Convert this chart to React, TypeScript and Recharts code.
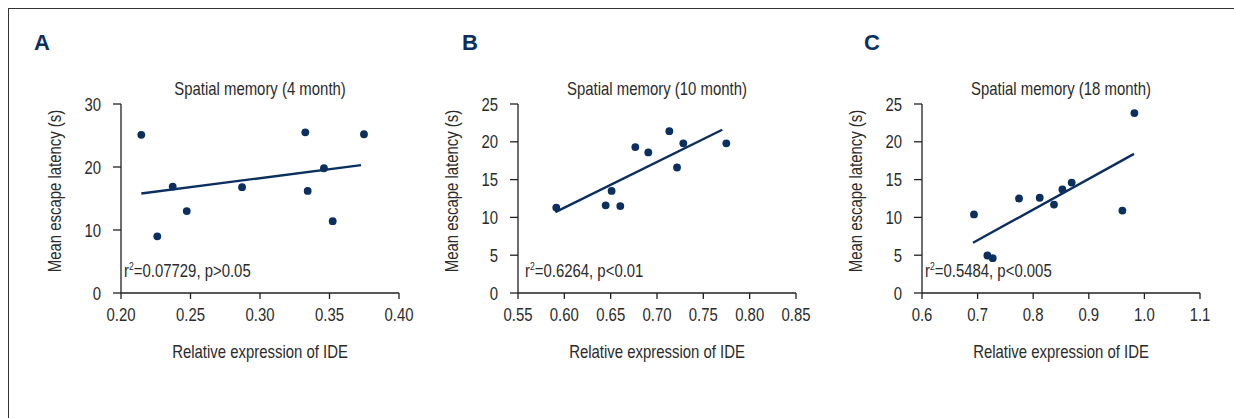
import { ScatterChart, Scatter, XAxis, YAxis, ReferenceLine } from "recharts";

// no condensed face is installed, so Liberation Sans gets squeezed horizontally
const FONT = '"Liberation Sans", Arial, sans-serif';
const SQUEEZE = 0.82;
const FONT_SIZE = 18.2;
const NAVY = "#0b2f5f";
const INK = "#2b2b2b";

// A: 4 month
const ideA = [0.2146, 0.2261, 0.2372, 0.2473, 0.2871, 0.3326, 0.3343, 0.346, 0.3523, 0.3748];
const latencyA = [25.1, 9.0, 16.9, 13.0, 16.8, 25.5, 16.2, 19.8, 11.4, 25.2];
const fitXA = [0.2146, 0.3727];
const fitYA = [15.8, 20.3];
const xTicksA = [0.2, 0.25, 0.3, 0.35, 0.4];
const yTicksA = [0, 10, 20, 30];

// B: 10 month
const ideB = [0.5913, 0.6446, 0.651, 0.6604, 0.6766, 0.6906, 0.7133, 0.7216, 0.7284, 0.7748];
const latencyB = [11.3, 11.6, 13.5, 11.5, 19.3, 18.6, 21.4, 16.6, 19.8, 19.8];
const fitXB = [0.5903, 0.7704];
const fitYB = [10.7, 21.6];
const xTicksB = [0.55, 0.6, 0.65, 0.7, 0.75, 0.8, 0.85];
const yTicksB = [0, 5, 10, 15, 20, 25];

// C: 18 month
const ideC = [0.6935, 0.7176, 0.7272, 0.7745, 0.8117, 0.8374, 0.8525, 0.8692, 0.9604, 0.982];
const latencyC = [10.4, 4.96, 4.6, 12.5, 12.6, 11.7, 13.7, 14.6, 10.9, 23.8];
const fitXC = [0.6917, 0.9813];
const fitYC = [6.64, 18.4];
const xTicksC = [0.6, 0.7, 0.8, 0.9, 1.0, 1.1];
const yTicksC = [0, 5, 10, 15, 20, 25];

const CHART_W = 420;
const CHART_H = 418;
const Y_AXIS_W = 121;
const PLOT_W = 278;

type PanelProps = {
  left: number;
  letter: string;
  letterX: number;
  title: string;
  stat: [string, string];
  statDx: number;
  xs: number[];
  ys: number[];
  fitX: number[];
  fitY: number[];
  xTicks: number[];
  yTicks: number[];
  decimals: number;
};

const textStyle = (cx: number, cy: number): React.CSSProperties => ({
  position: "absolute",
  left: cx,
  top: cy,
  transform: `translate(-50%, -50%) scaleX(${SQUEEZE})`,
  whiteSpace: "nowrap",
  fontFamily: FONT,
  fontSize: FONT_SIZE,
  lineHeight: 1,
  color: INK,
});

const makeTick = (anchor: "middle" | "end", dy: string, decimals: number) => (t: any) => (
  <g transform={`translate(${t.x},${t.y})`}>
    <text
      transform={`scale(${SQUEEZE},1)`}
      textAnchor={anchor}
      dy={dy}
      fill={INK}
      fontSize={FONT_SIZE}
      fontFamily={FONT}
    >
      {decimals < 0 ? String(t.payload.value) : Number(t.payload.value).toFixed(decimals)}
    </text>
  </g>
);

function Panel(p: PanelProps) {
  const data = p.xs.map((x, i) => ({ x, y: p.ys[i] }));
  const axisX = p.left + Y_AXIS_W;
  const cx = axisX + PLOT_W / 2;

  return (
    <>
      <div
        style={{
          position: "absolute",
          left: p.letterX,
          top: 32,
          fontFamily: FONT,
          fontWeight: "bold",
          fontSize: 22,
          lineHeight: "22px",
          color: NAVY,
        }}
      >
        {p.letter}
      </div>
      <div style={textStyle(cx, 89)}>{p.title}</div>
      <div style={textStyle(cx, 352)}>Relative expression of IDE</div>
      <div
        style={{
          ...textStyle(axisX - 66.5, 191),
          transform: `translate(-50%, -50%) rotate(-90deg) scaleX(${SQUEEZE})`,
        }}
      >
        Mean escape latency (s)
      </div>
      <div
        style={{
          ...textStyle(axisX + p.statDx, 270.5),
          transform: `translateY(-50%) scaleX(${SQUEEZE})`,
          transformOrigin: "left center",
        }}
      >
        {p.stat[0]}
        <sup style={{ fontSize: 10.5, verticalAlign: 0, position: "relative", top: -7 }}>2</sup>
        {p.stat[1]}
      </div>
      <div style={{ position: "absolute", left: p.left, top: 0 }}>
        <ScatterChart width={CHART_W} height={CHART_H} margin={{ top: 104, right: 21, bottom: 55, left: 0 }}>
          <XAxis
            type="number"
            dataKey="x"
            domain={[p.xTicks[0], p.xTicks[p.xTicks.length - 1]]}
            ticks={p.xTicks}
            height={70}
            tickSize={6}
            tickMargin={9}
            stroke="#231f20"
            strokeWidth={1.3}
            tick={makeTick("middle", "0.71em", p.decimals)}
            allowDataOverflow
          />
          <YAxis
            type="number"
            dataKey="y"
            domain={[p.yTicks[0], p.yTicks[p.yTicks.length - 1]]}
            ticks={p.yTicks}
            width={Y_AXIS_W}
            tickSize={8}
            tickMargin={12}
            stroke="#231f20"
            strokeWidth={1.3}
            tick={makeTick("end", "0.36em", -1)}
            allowDataOverflow
          />
          <ReferenceLine
            segment={[
              { x: p.fitX[0], y: p.fitY[0] },
              { x: p.fitX[1], y: p.fitY[1] },
            ]}
            stroke={NAVY}
            strokeWidth={2.4}
          />
          <Scatter
            data={data}
            fill={NAVY}
            isAnimationActive={false}
            shape={(s: any) => <circle cx={s.cx} cy={s.cy} r={3.9} fill={NAVY} />}
          />
        </ScatterChart>
      </div>
    </>
  );
}

export default function App() {
  return (
    <div style={{ position: "absolute", left: 0, top: 0, width: 1234, height: 418, background: "#fff", overflow: "hidden" }}>
      <div
        style={{
          position: "absolute",
          left: 8,
          top: 8,
          width: 1240,
          height: 420,
          borderTop: "1.3px solid #333",
          borderLeft: "1.3px solid #333",
        }}
      />
      <Panel
        left={0}
        letter="A"
        letterX={34}
        title="Spatial memory (4 month)"
        stat={["r", "=0.07729, p>0.05"]}
        statDx={3}
        xs={ideA}
        ys={latencyA}
        fitX={fitXA}
        fitY={fitYA}
        xTicks={xTicksA}
        yTicks={yTicksA}
        decimals={2}
      />
      <Panel
        left={397}
        letter="B"
        letterX={462}
        title="Spatial memory (10 month)"
        stat={["r", "=0.6264, p<0.01"]}
        statDx={6.5}
        xs={ideB}
        ys={latencyB}
        fitX={fitXB}
        fitY={fitYB}
        xTicks={xTicksB}
        yTicks={yTicksB}
        decimals={2}
      />
      <Panel
        left={801}
        letter="C"
        letterX={864}
        title="Spatial memory (18 month)"
        stat={["r", "=0.5484, p<0.005"]}
        statDx={2.7}
        xs={ideC}
        ys={latencyC}
        fitX={fitXC}
        fitY={fitYC}
        xTicks={xTicksC}
        yTicks={yTicksC}
        decimals={1}
      />
    </div>
  );
}
